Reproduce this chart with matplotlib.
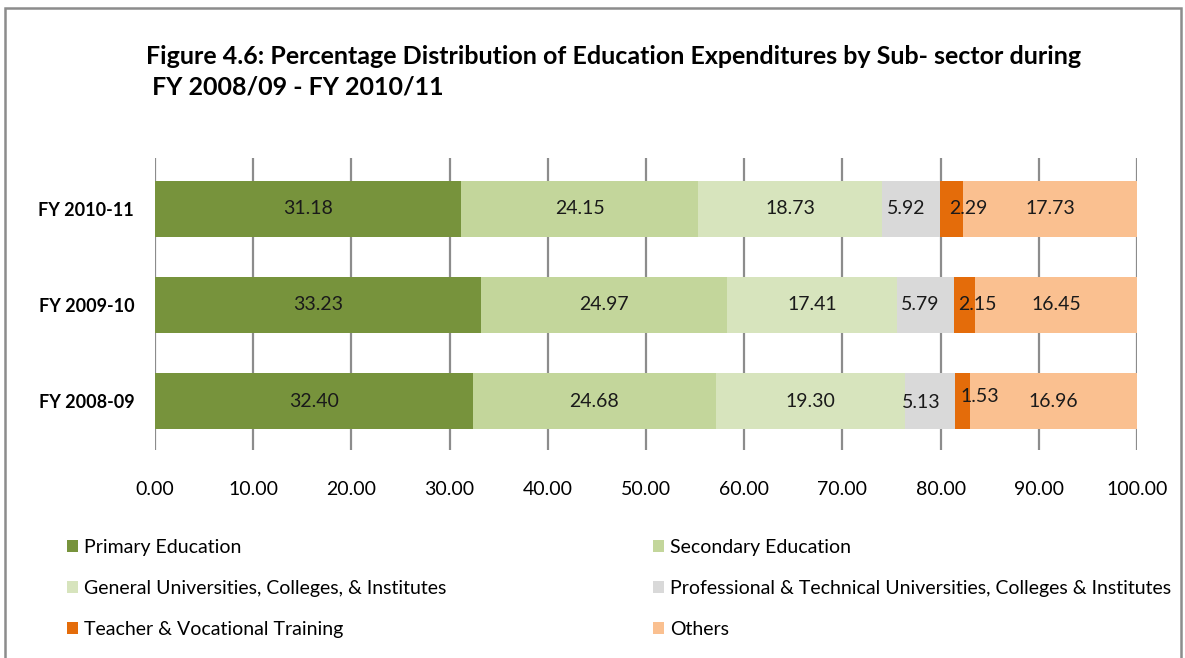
import matplotlib.pyplot as plt
from matplotlib.patches import Patch, Rectangle
import numpy as np

plt.rcParams['font.family'] = ['Lato', 'DejaVu Sans']

years = ['FY 2008-09', 'FY 2009-10', 'FY 2010-11']
subsectors = ['Primary Education',
              'Secondary Education',
              'General Universities, Colleges, & Institutes',
              'Professional & Technical Universities, Colleges & Institutes',
              'Teacher & Vocational Training',
              'Others']
primary = [32.40, 33.23, 31.18]
secondary = [24.68, 24.97, 24.15]
general = [19.30, 17.41, 18.73]
professional = [5.13, 5.79, 5.92]
teacher = [1.53, 2.15, 2.29]
others = [16.96, 16.45, 17.73]
colors = ['#77933C', '#C3D69B', '#D7E4BD', '#D9D9D9', '#E46C0A', '#FAC090']

series = [primary, secondary, general, professional, teacher, others]

# nudge the labels of the two thin segments apart (pixels)
nudge = {(3, 0): (-9, -1.5), (4, 0): (17, 5),
         (3, 1): (-6, 0), (4, 1): (12, 0),
         (3, 2): (-5, 0), (4, 2): (17, 0)}

fig = plt.figure(figsize=(11.85, 6.58), dpi=100)
ax = fig.add_axes([155 / 1185, 1 - 450 / 658, (1137 - 155) / 1185, (450 - 158) / 658])

y = np.arange(len(years))
left = np.zeros(len(years))
handles = []
for si, (name, vals, c) in enumerate(zip(subsectors, series, colors)):
    vals = np.array(vals)
    ax.barh(y, vals, left=left, height=0.583, color=c, zorder=2)
    for yi, l, v in zip(y, left, vals):
        ax.annotate('%.2f' % v, (l + v / 2, yi), xytext=nudge.get((si, yi), (0, 0)),
                    textcoords='offset pixels', ha='center', va='center',
                    fontsize=14, color='#1a1a1a', zorder=3)
    left += vals
    handles.append(Patch(facecolor=c, label=name))

ax.set_xlim(0, 100)
ax.set_ylim(-0.51, 2.53)
ax.set_xticks(np.arange(0, 101, 10))
ax.set_xticklabels(['%.2f' % t for t in np.arange(0, 101, 10)], fontsize=14)
ax.set_yticks(y)
ax.set_yticklabels(years, fontsize=13, fontweight='bold')
ax.tick_params(axis='both', length=0)
ax.tick_params(axis='x', pad=22)
ax.tick_params(axis='y', pad=15)
ax.grid(axis='x', color='#8c8c8c', linewidth=1.6, zorder=1)
ax.set_axisbelow(True)
for s in ax.spines.values():
    s.set_visible(False)

fig.text(146 / 1185, 1 - 72 / 658,
         'Figure 4.6: Percentage Distribution of Education Expenditures by Sub- sector during\n FY 2008/09 - FY 2010/11',
         fontsize=18, fontweight='bold', ha='left', va='center', linespacing=1.4)

# two legend columns placed side by side
leg_kw = dict(frameon=False, fontsize=14, handlelength=0.57, handleheight=0.57,
              handletextpad=0.3, labelspacing=1.23, borderaxespad=0, borderpad=0)
fig.legend(handles=[handles[0], handles[2], handles[4]], loc='upper left',
           bbox_to_anchor=(67 / 1185, 1 - 539 / 658), **leg_kw)
fig.legend(handles=[handles[1], handles[3], handles[5]], loc='upper left',
           bbox_to_anchor=(653 / 1185, 1 - 539 / 658), **leg_kw)

fig.patches.append(Rectangle((5 / 1185, -0.05), 1176 / 1185, 1.05 - 8 / 658,
                             transform=fig.transFigure, fill=False,
                             edgecolor='#8c8c8c', linewidth=1.8))

fig.savefig('out.png', dpi=100)
